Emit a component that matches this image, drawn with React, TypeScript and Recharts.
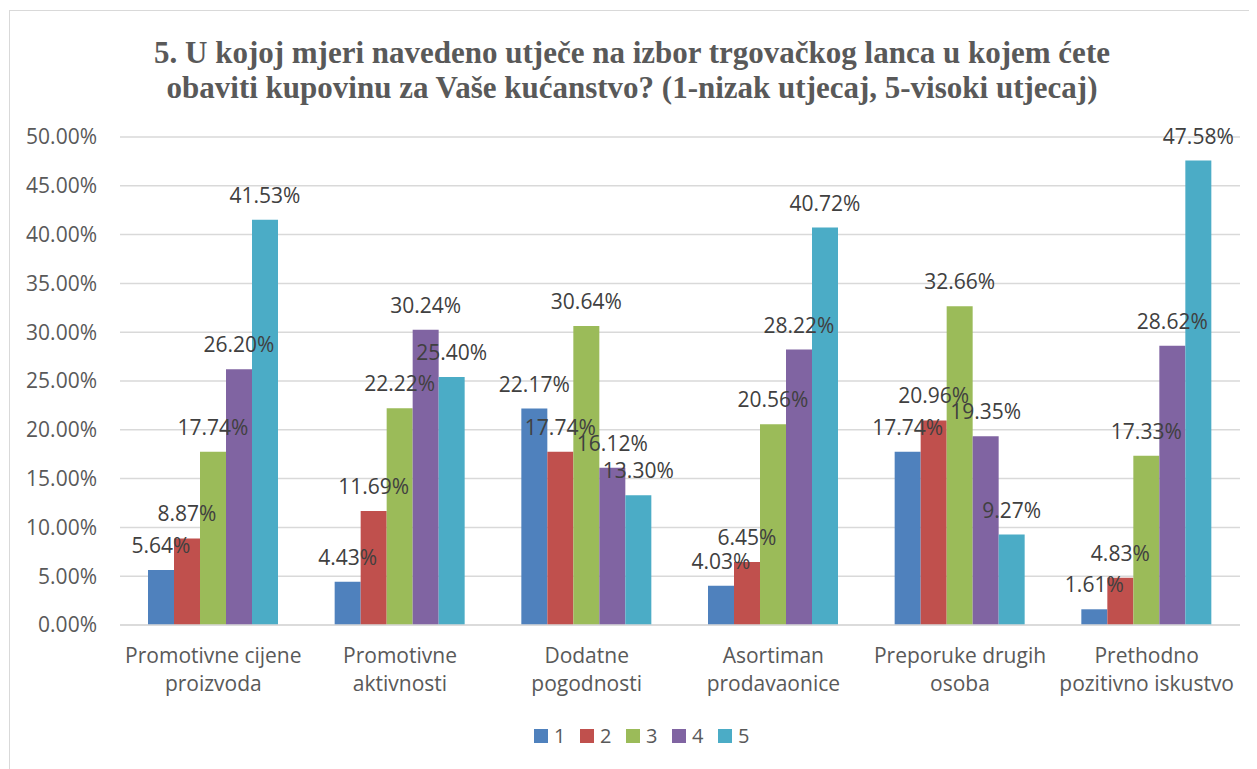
import React from 'react';
import { BarChart, Bar, XAxis, YAxis, CartesianGrid, Legend, LabelList } from 'recharts';

// kategorije (x os)
const categories = [
  'Promotivne cijene\nproizvoda',
  'Promotivne\naktivnosti',
  'Dodatne\npogodnosti',
  'Asortiman\nprodavaonice',
  'Preporuke drugih\nosoba',
  'Prethodno\npozitivno iskustvo',
];

// ocjene 1-5, postotak odgovora po kategoriji
const ocjena1 = [5.64, 4.43, 22.17, 4.03, 17.74, 1.61];
const ocjena2 = [8.87, 11.69, 17.74, 6.45, 20.96, 4.83];
const ocjena3 = [17.74, 22.22, 30.64, 20.56, 32.66, 17.33];
const ocjena4 = [26.2, 30.24, 16.12, 28.22, 19.35, 28.62];
const ocjena5 = [41.53, 25.4, 13.3, 40.72, 9.27, 47.58];

const yTicks = [0, 5, 10, 15, 20, 25, 30, 35, 40, 45, 50];

const seriesNames = ['1', '2', '3', '4', '5'];
const colors = ['#4F81BD', '#C0504D', '#9BBB59', '#8064A2', '#4BACC6'];

const data = categories.map((name, i) => ({
  name,
  '1': ocjena1[i],
  '2': ocjena2[i],
  '3': ocjena3[i],
  '4': ocjena4[i],
  '5': ocjena5[i],
}));

const FONT = '"Open Sans", sans-serif';

const CategoryTick = (props: any) => {
  const { x, y, payload } = props;
  const lines = String(payload.value).split('\n');
  return (
    <g>
      {lines.map((l, i) => (
        <text
          key={i}
          x={x}
          y={y + 22 + i * 28}
          textAnchor="middle"
          dominantBaseline="central"
          fill="#595959"
          fontSize={21}
          fontFamily={FONT}
        >
          {l}
        </text>
      ))}
    </g>
  );
};

const PctLabel = (props: any) => {
  const { x, y, width, value } = props;
  return (
    <text
      x={x + width / 2}
      y={y - 25}
      textAnchor="middle"
      dominantBaseline="central"
      fill="#404040"
      fontSize={21}
      fontFamily={FONT}
    >
      {Number(value).toFixed(2)}%
    </text>
  );
};

const LegendBox = () => (
  <div style={{ display: 'flex', justifyContent: 'center', fontFamily: FONT, fontSize: 20, color: '#595959', paddingLeft: 14 }}>
    {seriesNames.map((s, i) => (
      <div key={s} style={{ display: 'flex', alignItems: 'center', marginRight: i < 4 ? 16 : 0 }}>
        <span style={{ width: 14, height: 14, background: colors[i], display: 'inline-block', marginRight: 6 }} />
        <span style={{ width: 10 }}>{s}</span>
      </div>
    ))}
  </div>
);

export default function App() {
  return (
    <div
      style={{
        position: 'relative',
        width: 1249,
        height: 759,
        marginTop: 2,
        marginLeft: 1,
        borderTop: '1px solid #d9d9d9',
        borderLeft: '1px solid #d9d9d9',
        background: '#fff',
      }}
    >
      <div
        style={{
          position: 'absolute',
          top: 24,
          left: 0,
          width: 1244,
          textAlign: 'center',
          fontFamily: '"Liberation Serif", serif',
          fontWeight: 'bold',
          fontSize: 31,
          lineHeight: '35px',
          color: '#595959',
        }}
      >
        5. U kojoj mjeri navedeno utječe na izbor trgovačkog lanca u kojem ćete
        <br />
        obaviti kupovinu za Vaše kućanstvo? (1-nizak utjecaj, 5-visoki utjecaj)
      </div>
      <BarChart
        width={1248}
        height={758}
        data={data}
        margin={{ top: 126, right: 18, left: 0, bottom: 37 }}
        barGap={0}
        barCategoryGap="15%"
      >
        <CartesianGrid vertical={false} stroke="#d9d9d9" strokeWidth={1.5} />
        <XAxis
          dataKey="name"
          interval={0}
          height={80}
          tickLine={false}
          axisLine={{ stroke: '#d9d9d9', strokeWidth: 1.5 }}
          tick={<CategoryTick />}
        />
        <YAxis
          width={110}
          domain={[0, 50]}
          ticks={yTicks}
          axisLine={false}
          tickLine={false}
          tickMargin={17}
          tickFormatter={(v: number) => v.toFixed(2) + '%'}
          tick={{ fill: '#595959', fontSize: 21, fontFamily: FONT }}
        />
        <Legend content={<LegendBox />} wrapperStyle={{ top: 711, left: 0, width: 1248 }} />
        {seriesNames.map((s, i) => (
          <Bar key={s} dataKey={s} fill={colors[i]} isAnimationActive={false}>
            <LabelList dataKey={s} content={<PctLabel />} />
          </Bar>
        ))}
      </BarChart>
    </div>
  );
}
